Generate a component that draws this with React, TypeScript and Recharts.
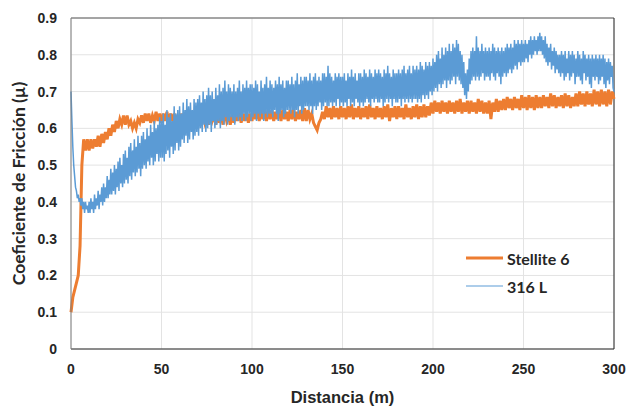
import React from 'react';
import {
  LineChart,
  Line,
  XAxis,
  YAxis,
  CartesianGrid,
  ReferenceLine,
} from 'recharts';

// Stellite 6: one sample per metre, 0..300 m
const stellite6 = [
  0.10, 0.14, 0.16, 0.18, 0.20, 0.28, 0.50, 0.57, 0.54, 0.57,
  0.54, 0.57, 0.545, 0.57, 0.55, 0.58, 0.55, 0.585, 0.56, 0.59,
  0.57, 0.60, 0.58, 0.61, 0.59, 0.62, 0.60, 0.625, 0.61, 0.635,
  0.61, 0.635, 0.61, 0.62, 0.60, 0.615, 0.60, 0.625, 0.615, 0.635,
  0.615, 0.64, 0.62, 0.64, 0.615, 0.635, 0.62, 0.645, 0.62, 0.64,
  0.615, 0.64, 0.62, 0.645, 0.615, 0.64, 0.62, 0.64, 0.615, 0.635,
  0.61, 0.64, 0.615, 0.635, 0.61, 0.64, 0.62, 0.635, 0.61, 0.64,
  0.615, 0.635, 0.61, 0.64, 0.615, 0.63, 0.61, 0.64, 0.62, 0.635,
  0.61, 0.64, 0.615, 0.635, 0.61, 0.645, 0.62, 0.635, 0.61, 0.64,
  0.615, 0.64, 0.62, 0.645, 0.615, 0.64, 0.62, 0.645, 0.615, 0.64,
  0.62, 0.65, 0.625, 0.645, 0.62, 0.65, 0.625, 0.645, 0.62, 0.655,
  0.625, 0.65, 0.62, 0.645, 0.625, 0.655, 0.62, 0.65, 0.625, 0.645,
  0.62, 0.65, 0.625, 0.655, 0.62, 0.645, 0.625, 0.65, 0.62, 0.655,
  0.62, 0.65, 0.625, 0.64, 0.615, 0.605, 0.595, 0.615, 0.625, 0.645,
  0.625, 0.66, 0.63, 0.655, 0.625, 0.66, 0.63, 0.655, 0.625, 0.66,
  0.63, 0.655, 0.625, 0.66, 0.63, 0.665, 0.625, 0.655, 0.63, 0.66,
  0.625, 0.655, 0.63, 0.66, 0.625, 0.665, 0.63, 0.655, 0.625, 0.66,
  0.63, 0.655, 0.625, 0.66, 0.63, 0.665, 0.62, 0.655, 0.63, 0.66,
  0.625, 0.66, 0.63, 0.655, 0.625, 0.665, 0.63, 0.655, 0.625, 0.66,
  0.63, 0.665, 0.625, 0.66, 0.63, 0.665, 0.63, 0.66, 0.635, 0.67,
  0.64, 0.675, 0.645, 0.67, 0.64, 0.675, 0.645, 0.67, 0.64, 0.675,
  0.645, 0.67, 0.64, 0.675, 0.645, 0.68, 0.64, 0.67, 0.645, 0.675,
  0.64, 0.675, 0.645, 0.67, 0.64, 0.68, 0.645, 0.675, 0.64, 0.67,
  0.64, 0.675, 0.625, 0.67, 0.645, 0.68, 0.645, 0.675, 0.65, 0.68,
  0.65, 0.685, 0.655, 0.68, 0.65, 0.685, 0.655, 0.68, 0.65, 0.69,
  0.655, 0.685, 0.65, 0.69, 0.655, 0.685, 0.65, 0.69, 0.655, 0.685,
  0.655, 0.69, 0.66, 0.685, 0.655, 0.695, 0.66, 0.69, 0.655, 0.685,
  0.66, 0.69, 0.655, 0.695, 0.66, 0.69, 0.655, 0.685, 0.66, 0.695,
  0.66, 0.70, 0.665, 0.695, 0.66, 0.70, 0.665, 0.695, 0.66, 0.705,
  0.665, 0.70, 0.66, 0.705, 0.665, 0.70, 0.66, 0.705, 0.665, 0.70,
  0.68,
];

// 316 L: two samples per metre, 0..300 m
const steel316L = [
  0.70, 0.62, 0.55, 0.50, 0.47, 0.44, 0.43, 0.41, 0.42, 0.40, 0.41, 0.39, 0.41, 0.38, 0.40, 0.37, 0.40, 0.38, 0.39, 0.37,
  0.40, 0.37, 0.41, 0.38, 0.40, 0.37, 0.42, 0.38, 0.41, 0.39, 0.43, 0.38, 0.42, 0.40, 0.44, 0.39, 0.45, 0.40, 0.44, 0.41,
  0.47, 0.41, 0.46, 0.42, 0.49, 0.42, 0.48, 0.43, 0.50, 0.42, 0.49, 0.44, 0.51, 0.43, 0.52, 0.45, 0.50, 0.44, 0.53, 0.45,
  0.54, 0.46, 0.52, 0.45, 0.55, 0.47, 0.56, 0.46, 0.54, 0.48, 0.57, 0.47, 0.55, 0.48, 0.58, 0.49, 0.56, 0.47, 0.58, 0.49,
  0.59, 0.50, 0.57, 0.49, 0.60, 0.51, 0.58, 0.50, 0.61, 0.52, 0.59, 0.50, 0.62, 0.51, 0.60, 0.53, 0.61, 0.51, 0.63, 0.52,
  0.62, 0.52, 0.64, 0.51, 0.61, 0.53, 0.65, 0.54, 0.63, 0.52, 0.64, 0.55, 0.62, 0.53, 0.66, 0.54, 0.64, 0.56, 0.65, 0.54,
  0.66, 0.55, 0.64, 0.57, 0.67, 0.56, 0.65, 0.58, 0.68, 0.56, 0.66, 0.57, 0.67, 0.59, 0.65, 0.57, 0.68, 0.58, 0.67, 0.59,
  0.68, 0.58, 0.69, 0.60, 0.67, 0.59, 0.70, 0.61, 0.68, 0.59, 0.69, 0.60, 0.71, 0.61, 0.69, 0.59, 0.70, 0.62, 0.68, 0.60,
  0.71, 0.61, 0.69, 0.62, 0.72, 0.60, 0.70, 0.62, 0.71, 0.61, 0.73, 0.63, 0.70, 0.61, 0.72, 0.62, 0.71, 0.63, 0.70, 0.62,
  0.72, 0.61, 0.70, 0.63, 0.71, 0.62, 0.73, 0.63, 0.70, 0.62, 0.72, 0.64, 0.71, 0.62, 0.73, 0.63, 0.71, 0.64, 0.72, 0.62,
  0.72, 0.63, 0.71, 0.64, 0.73, 0.62, 0.72, 0.64, 0.70, 0.63, 0.73, 0.64, 0.71, 0.62, 0.72, 0.64, 0.74, 0.63, 0.71, 0.64,
  0.73, 0.64, 0.72, 0.63, 0.71, 0.65, 0.73, 0.64, 0.72, 0.62, 0.74, 0.64, 0.72, 0.65, 0.73, 0.63, 0.71, 0.64, 0.73, 0.65,
  0.73, 0.65, 0.72, 0.64, 0.74, 0.65, 0.72, 0.63, 0.73, 0.65, 0.75, 0.64, 0.72, 0.66, 0.74, 0.64, 0.73, 0.65, 0.74, 0.66,
  0.74, 0.66, 0.73, 0.65, 0.75, 0.66, 0.73, 0.64, 0.74, 0.66, 0.75, 0.65, 0.73, 0.66, 0.74, 0.67, 0.73, 0.65, 0.75, 0.66,
  0.75, 0.67, 0.74, 0.66, 0.77, 0.66, 0.75, 0.67, 0.74, 0.66, 0.73, 0.67, 0.75, 0.66, 0.74, 0.68, 0.75, 0.66, 0.74, 0.67,
  0.74, 0.66, 0.75, 0.67, 0.73, 0.66, 0.75, 0.68, 0.74, 0.66, 0.76, 0.67, 0.74, 0.66, 0.75, 0.68, 0.73, 0.67, 0.75, 0.66,
  0.75, 0.67, 0.74, 0.66, 0.76, 0.67, 0.75, 0.68, 0.74, 0.67, 0.76, 0.66, 0.75, 0.68, 0.74, 0.67, 0.76, 0.68, 0.75, 0.67,
  0.76, 0.67, 0.75, 0.68, 0.74, 0.66, 0.76, 0.67, 0.75, 0.68, 0.77, 0.67, 0.75, 0.68, 0.74, 0.66, 0.76, 0.68, 0.75, 0.67,
  0.75, 0.67, 0.76, 0.68, 0.75, 0.66, 0.76, 0.68, 0.77, 0.67, 0.75, 0.68, 0.76, 0.67, 0.77, 0.68, 0.75, 0.67, 0.77, 0.68,
  0.76, 0.68, 0.77, 0.67, 0.76, 0.68, 0.78, 0.67, 0.77, 0.69, 0.76, 0.68, 0.78, 0.69, 0.77, 0.68, 0.78, 0.70, 0.77, 0.69,
  0.79, 0.70, 0.78, 0.71, 0.80, 0.70, 0.81, 0.72, 0.79, 0.71, 0.82, 0.72, 0.80, 0.73, 0.82, 0.71, 0.81, 0.73, 0.83, 0.72,
  0.81, 0.73, 0.83, 0.74, 0.82, 0.72, 0.84, 0.74, 0.83, 0.73, 0.81, 0.72, 0.80, 0.71, 0.78, 0.69, 0.75, 0.68, 0.76, 0.70,
  0.79, 0.72, 0.81, 0.73, 0.82, 0.74, 0.81, 0.73, 0.85, 0.74, 0.82, 0.73, 0.81, 0.74, 0.83, 0.75, 0.81, 0.73, 0.82, 0.74,
  0.81, 0.74, 0.82, 0.73, 0.81, 0.75, 0.83, 0.74, 0.82, 0.73, 0.81, 0.75, 0.82, 0.74, 0.81, 0.72, 0.82, 0.74, 0.81, 0.75,
  0.82, 0.74, 0.83, 0.75, 0.82, 0.76, 0.83, 0.75, 0.82, 0.76, 0.84, 0.77, 0.83, 0.76, 0.84, 0.78, 0.83, 0.77, 0.84, 0.78,
  0.83, 0.78, 0.84, 0.79, 0.83, 0.78, 0.84, 0.80, 0.85, 0.79, 0.84, 0.80, 0.85, 0.81, 0.84, 0.80, 0.85, 0.81, 0.86, 0.81,
  0.85, 0.80, 0.84, 0.79, 0.85, 0.78, 0.83, 0.77, 0.82, 0.78, 0.83, 0.76, 0.81, 0.77, 0.82, 0.75, 0.81, 0.76, 0.80, 0.75,
  0.80, 0.74, 0.81, 0.75, 0.80, 0.73, 0.81, 0.74, 0.79, 0.75, 0.81, 0.73, 0.80, 0.74, 0.81, 0.75, 0.80, 0.72, 0.79, 0.74,
  0.81, 0.74, 0.80, 0.73, 0.79, 0.72, 0.81, 0.75, 0.80, 0.73, 0.79, 0.74, 0.80, 0.72, 0.79, 0.71, 0.80, 0.74, 0.79, 0.73,
  0.80, 0.74, 0.79, 0.72, 0.80, 0.73, 0.79, 0.74, 0.80, 0.72, 0.79, 0.71, 0.78, 0.73, 0.79, 0.72, 0.78, 0.74, 0.77, 0.71,
  0.70,
];

const xTicks = [0, 50, 100, 150, 200, 250, 300];
const yTicks = [0, 0.1, 0.2, 0.3, 0.4, 0.5, 0.6, 0.7, 0.8, 0.9];

const ORANGE = '#ED7D31';
const BLUE = '#5B9BD5';
const TEXT = '#262626';
const tickStyle = { fontFamily: '"Liberation Sans", Arial', fontWeight: 700, fontSize: 14, fill: TEXT };

const stelliteData = stellite6.map((v, i) => ({ d: i, stellite: v }));
const steelData = steel316L.map((v, i) => ({ d: i / 2, steel: v }));

const YLabel = ({ viewBox }: any) => {
  const cx = 18;
  const cy = viewBox.y + viewBox.height / 2;
  return (
    <text
      x={cx}
      y={cy}
      transform={`rotate(-90 ${cx} ${cy})`}
      textAnchor="middle"
      dominantBaseline="central"
      style={{ fontFamily: 'Lato', fontWeight: 700, fontSize: 17.5, fill: TEXT }}
    >
      Coeficiente de Fricción (µ)
    </text>
  );
};

const legendItems = [
  { name: 'Stellite 6', color: ORANGE, w: 3 },
  { name: '316 L', color: BLUE, w: 1 },
];

export default function App() {
  return (
    <div style={{ position: 'absolute', left: 0, top: 0, width: 628, height: 407, background: '#fff' }}>
      <LineChart width={628} height={407} margin={{ top: 18, right: 14, bottom: 0, left: 0 }}>
        <CartesianGrid stroke="#e3e3e3" strokeWidth={1} />
        <XAxis
          type="number"
          dataKey="d"
          domain={[0, 300]}
          ticks={xTicks}
          height={58}
          tickSize={0}
          tickMargin={15}
          tick={tickStyle}
          axisLine={{ stroke: TEXT }}
          allowDuplicatedCategory={false}
          label={{
            value: 'Distancia (m)',
            position: 'insideBottom',
            offset: 4,
            style: { fontFamily: '"Liberation Sans", Arial', fontWeight: 700, fontSize: 16.5, fill: TEXT },
          }}
        />
        <YAxis
          type="number"
          domain={[0, 0.9]}
          ticks={yTicks}
          width={71}
          tickSize={0}
          tickMargin={14}
          tick={tickStyle}
          tickFormatter={(v: number) => (v === 0 ? '0' : v.toFixed(1))}
          axisLine={{ stroke: '#7f7f7f' }}
          label={<YLabel />}
        />
        <ReferenceLine y={0.9} stroke="#595959" strokeWidth={1} />
        <ReferenceLine x={300} stroke={TEXT} strokeWidth={1} />
        <Line
          data={stelliteData}
          type="linear"
          dataKey="stellite"
          name="Stellite 6"
          stroke={ORANGE}
          strokeWidth={3}
          dot={false}
          isAnimationActive={false}
        />
        <Line
          data={steelData}
          type="linear"
          dataKey="steel"
          name="316 L"
          stroke={BLUE}
          strokeWidth={1.5}
          dot={false}
          isAnimationActive={false}
        />
      </LineChart>
      <div
        style={{
          position: 'absolute',
          left: 466,
          top: 244,
          fontFamily: 'Lato',
          fontWeight: 700,
          fontSize: 16,
          color: TEXT,
        }}
      >
        {legendItems.map((it) => (
          <div key={it.name} style={{ display: 'flex', alignItems: 'center', height: 28 }}>
            <svg width={38} height={10} style={{ marginRight: 3 }}>
              <line x1={0} y1={5} x2={37} y2={5} stroke={it.color} strokeWidth={it.w} />
            </svg>
            <span>{it.name}</span>
          </div>
        ))}
      </div>
    </div>
  );
}
